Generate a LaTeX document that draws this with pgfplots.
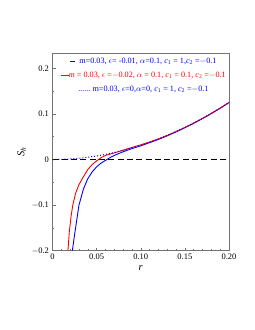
\documentclass[border=0pt]{standalone}
\usepackage{pgfplots}
\pgfplotsset{compat=1.18}
\usepackage{fontspec}
\setmainfont{Liberation Serif}
\begin{document}
\begin{tikzpicture}
\begin{axis}[
  at={(0,0)}, anchor=south west,
  scale only axis, width=176.5bp, height=197.4bp,
  xmin=0, xmax=0.2, ymin=-0.2, ymax=0.233,
  axis line style={draw=black!55, line width=0.8pt},
  xtick={0,0.05,0.1,0.15,0.2},
  xticklabels={0,0.05,0.10,0.15,0.20},
  ytick={-0.2,-0.1,0,0.1,0.2},
  yticklabels={$-$0.2,$-$0.1,0,0.1,0.2},
  minor xtick={0.01,0.02,0.03,0.04,0.06,0.07,0.08,0.09,0.11,0.12,0.13,0.14,0.16,0.17,0.18,0.19},
  minor ytick={-0.15,-0.05,0.05,0.15},
  tick align=inside, xtick pos=bottom, ytick pos=left,
  major tick length=3bp, minor tick length=1.5bp,
  tick style={black!55, line width=0.5pt},
  tick label style={font=\fontsize{8.5}{9}\selectfont},
  /pgf/number format/assume math mode=true,
  xlabel={\textit{r}}, ylabel={\textit{S}\textsubscript{\textit{h}}},
  label style={font=\fontsize{10.5}{11}\selectfont},
  xlabel style={yshift=1bp},
  ylabel style={yshift=-1bp},
  legend style={draw=none, fill=none, at={(0.515,0.99)}, anchor=north,
    font=\fontsize{8.2}{9}\selectfont, row sep=3bp, inner sep=1pt},
  legend cell align=center,
]
\addplot[black, line width=1.1pt, dash pattern=on 6bp off 3.3bp, forget plot] coordinates {(0,0) (0.2,0)};
\addplot[blue, line width=0.9pt, forget plot] coordinates {
(0.0225,-0.2) (0.025,-0.165) (0.03,-0.10) (0.035,-0.065) (0.04,-0.042) (0.045,-0.027)
(0.05,-0.016) (0.055,-0.008) (0.06,-0.002) (0.065,0.004) (0.07,0.009) (0.08,0.017)
(0.09,0.024) (0.10,0.030) (0.11,0.037) (0.12,0.044) (0.13,0.052) (0.14,0.0605)
(0.15,0.0698) (0.16,0.0795) (0.17,0.0898) (0.18,0.1008) (0.19,0.1125) (0.20,0.125)};
\addplot[red, line width=0.9pt, forget plot] coordinates {
(0.0175,-0.2) (0.019,-0.16) (0.021,-0.125) (0.023,-0.1) (0.026,-0.075) (0.03,-0.055)
(0.035,-0.038) (0.04,-0.022) (0.045,-0.011) (0.05,-0.003) (0.055,0.004) (0.06,0.009)
(0.07,0.0145) (0.08,0.0205) (0.09,0.0265) (0.10,0.0322) (0.11,0.0385) (0.12,0.0452)
(0.13,0.053) (0.14,0.0614) (0.15,0.0703) (0.16,0.08) (0.17,0.0903) (0.18,0.10125)
(0.19,0.1128) (0.20,0.125)};
\addplot[blue, line width=1pt, dotted, forget plot] coordinates {
(0,0) (0.01,0.0003) (0.02,0.00125) (0.03,0.0028) (0.04,0.005) (0.05,0.0078)
(0.06,0.01125) (0.07,0.0153) (0.08,0.02) (0.09,0.0253) (0.10,0.03125) (0.11,0.0378)
(0.12,0.045) (0.13,0.0528) (0.14,0.06125) (0.15,0.0703) (0.16,0.08) (0.17,0.0903)
(0.18,0.10125) (0.19,0.1128) (0.20,0.125)};
\addlegendimage{empty legend}
\addlegendentry{\textcolor{blue}{\rule[0.6ex]{5bp}{0.9pt}\ \ m=0.03, $\epsilon$= -0.01, $\alpha$=0.1, \textit{c}\textsubscript{1} = 1,\textit{c}\textsubscript{2} =$-$0.1}}
\addlegendimage{empty legend}
\addlegendentry{\textcolor{red}{\rule[0.6ex]{8bp}{0.9pt}\textit{m} = 0.03, $\epsilon$ =$-$0.02, $\alpha$ = 0.1, \textit{c}\textsubscript{1} = 0.1, \textit{c}\textsubscript{2} =$-$0.1}}
\addlegendimage{empty legend}
\addlegendentry{\textcolor{blue}{......\ m=0.03, $\epsilon$=0,$\alpha$=0, \textit{c}\textsubscript{1} = 1, \textit{c}\textsubscript{2} =$-$0.1}}
\end{axis}
\useasboundingbox (-52.5bp,-79.3bp) rectangle (202.5bp,250.7bp);
\end{tikzpicture}
\end{document}
